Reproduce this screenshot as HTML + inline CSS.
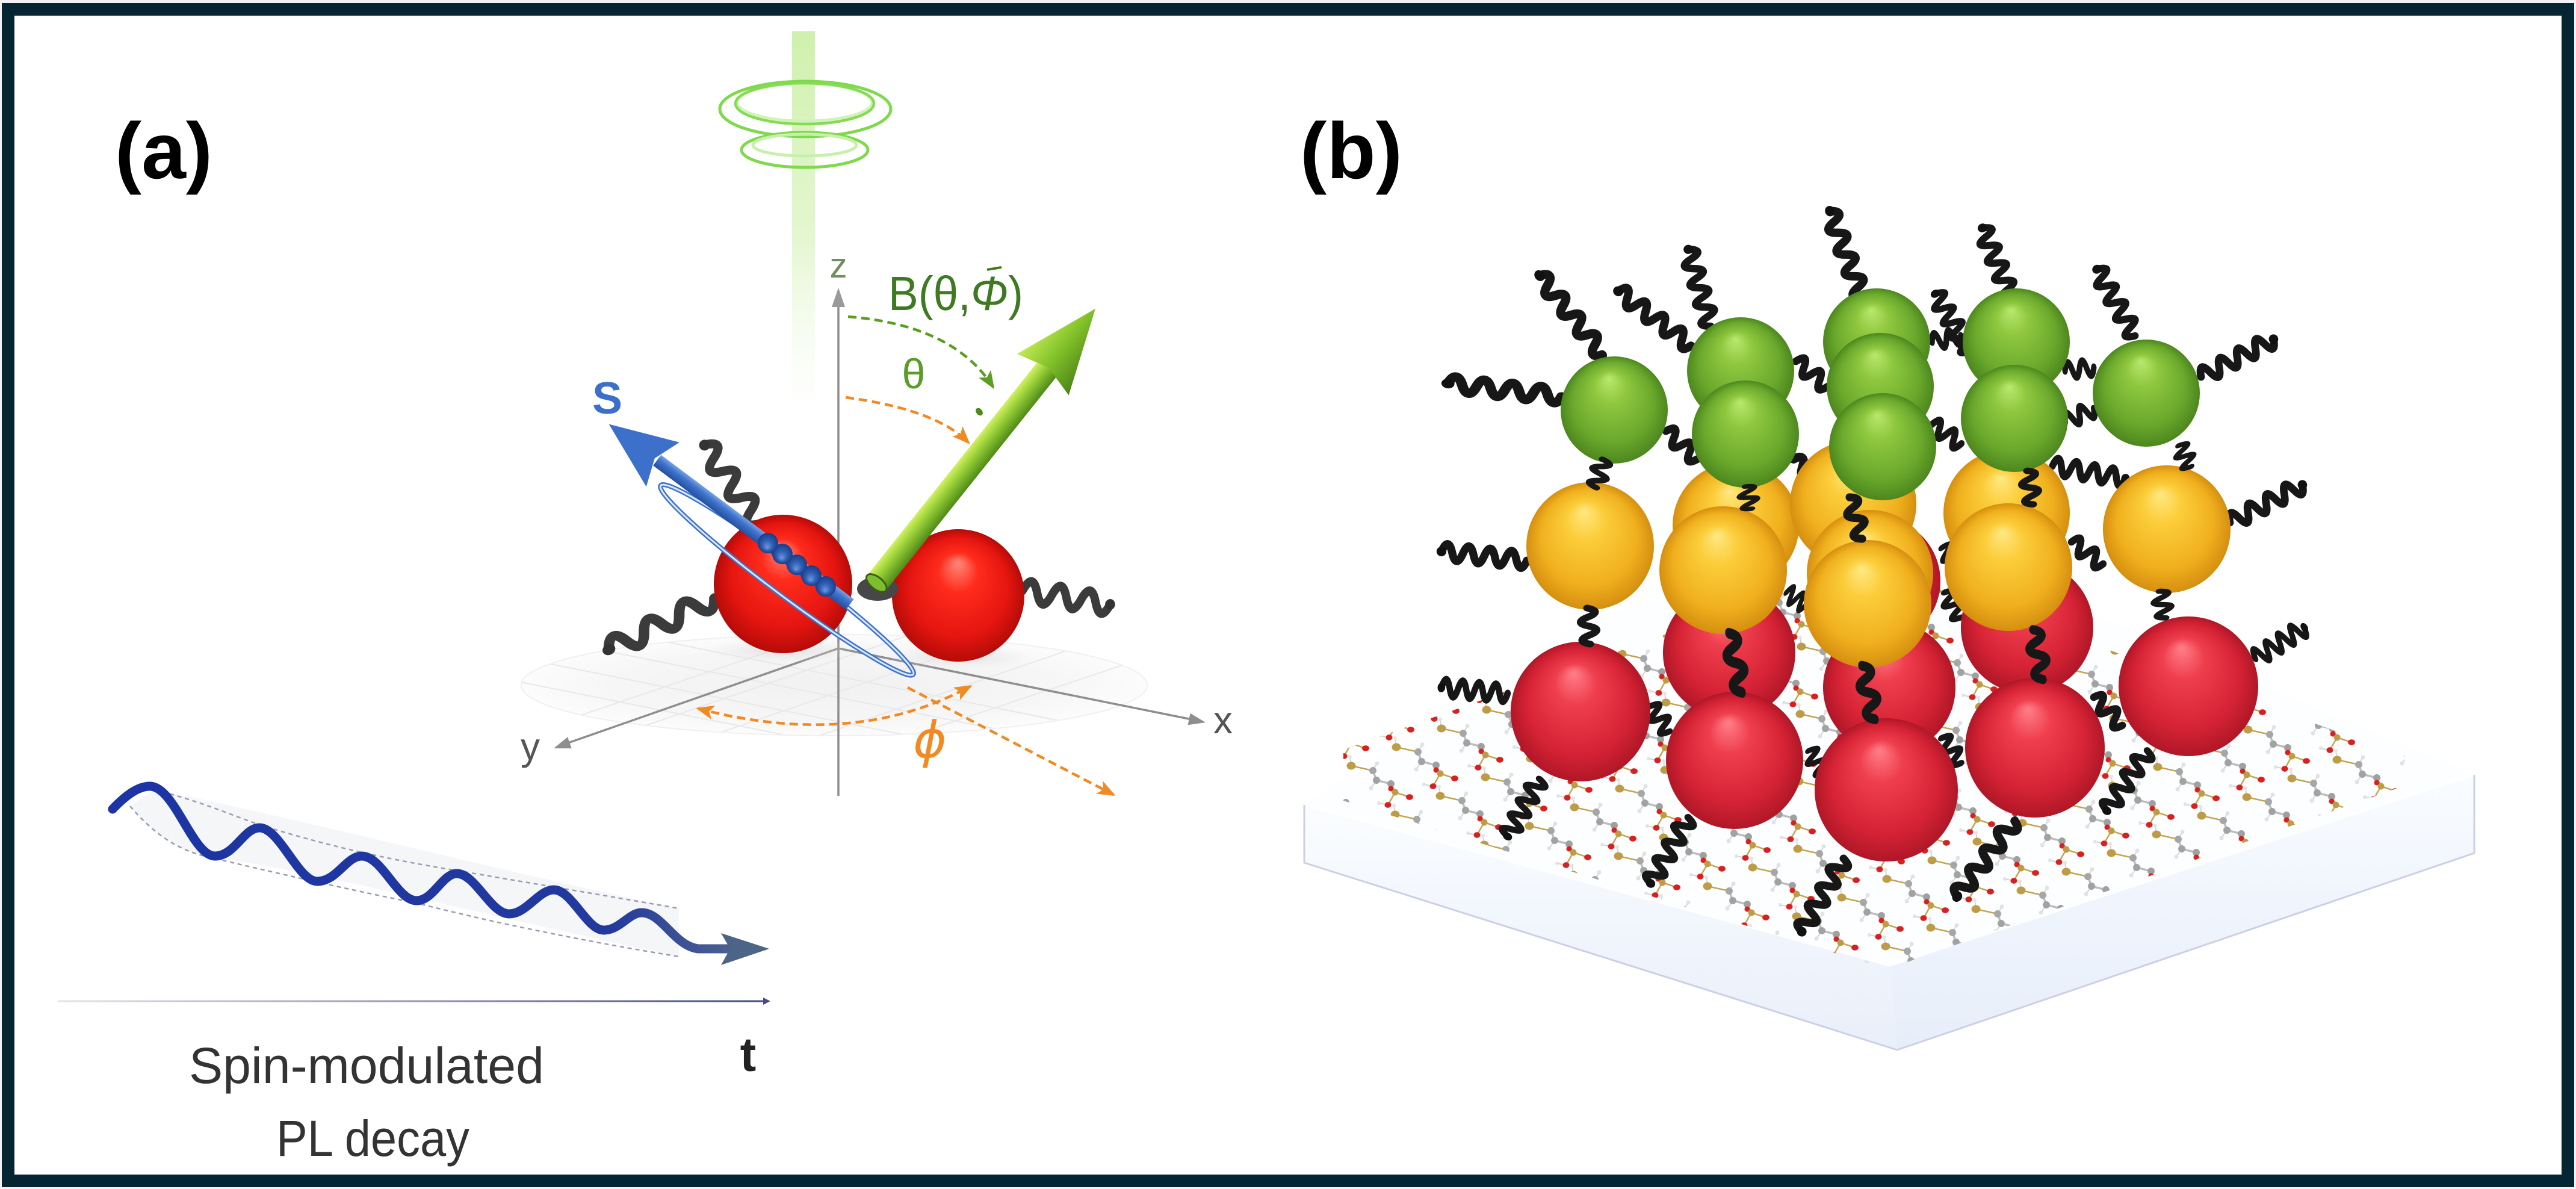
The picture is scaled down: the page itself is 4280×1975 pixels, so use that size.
<!DOCTYPE html>
<html>
<head>
<meta charset="utf-8">
<style>
  html,body{margin:0;padding:0;background:#ffffff;}
  body{width:4280px;height:1975px;overflow:hidden;}
  svg{display:block;}
</style>
</head>
<body>
<svg width="4280" height="1975" viewBox="0 0 4280 1975" xmlns="http://www.w3.org/2000/svg" xmlns:xlink="http://www.w3.org/1999/xlink">
<defs>
  <radialGradient id="gRed" cx="0.5" cy="0.5" r="0.5" fx="0.45" fy="0.22">
    <stop offset="0" stop-color="#ff808a"/>
    <stop offset="0.3" stop-color="#ef3e4d"/>
    <stop offset="0.75" stop-color="#d52335"/>
    <stop offset="1" stop-color="#b01727"/>
  </radialGradient>
  <radialGradient id="gRedA" cx="0.5" cy="0.5" r="0.5" fx="0.5" fy="0.25">
    <stop offset="0" stop-color="#ff8a7c"/>
    <stop offset="0.3" stop-color="#ff2c1c"/>
    <stop offset="0.75" stop-color="#e51510"/>
    <stop offset="1" stop-color="#b50c08"/>
  </radialGradient>
  <radialGradient id="gYel" cx="0.5" cy="0.5" r="0.5" fx="0.45" fy="0.22">
    <stop offset="0" stop-color="#ffe985"/>
    <stop offset="0.3" stop-color="#fccd3a"/>
    <stop offset="0.75" stop-color="#f0b01e"/>
    <stop offset="1" stop-color="#d58f10"/>
  </radialGradient>
  <radialGradient id="gGrn" cx="0.5" cy="0.5" r="0.5" fx="0.45" fy="0.2">
    <stop offset="0" stop-color="#b9e86e"/>
    <stop offset="0.3" stop-color="#8fc83f"/>
    <stop offset="0.75" stop-color="#6aa82c"/>
    <stop offset="1" stop-color="#4d871e"/>
  </radialGradient>
  <radialGradient id="gBead" cx="0.5" cy="0.5" r="0.5" fx="0.4" fy="0.3">
    <stop offset="0" stop-color="#6f98dd"/>
    <stop offset="0.5" stop-color="#2f5fb5"/>
    <stop offset="1" stop-color="#1a3c86"/>
  </radialGradient>
  <radialGradient id="gFloor" cx="0.5" cy="0.5" r="0.5">
    <stop offset="0" stop-color="#f1f1f1"/>
    <stop offset="0.7" stop-color="#f6f6f6"/>
    <stop offset="1" stop-color="#fcfcfc"/>
  </radialGradient>
  <radialGradient id="gShadow" cx="0.5" cy="0.5" r="0.5">
    <stop offset="0" stop-color="#cfcfcf" stop-opacity="0.6"/>
    <stop offset="1" stop-color="#e8e8e8" stop-opacity="0"/>
  </radialGradient>
  <linearGradient id="gShaftG" x1="0" y1="0" x2="0" y2="1">
    <stop offset="0" stop-color="#d2f065"/>
    <stop offset="0.35" stop-color="#9ed43a"/>
    <stop offset="1" stop-color="#4e8a17"/>
  </linearGradient>
  <linearGradient id="gHeadG" x1="0" y1="0" x2="0" y2="1">
    <stop offset="0" stop-color="#c4ea55"/>
    <stop offset="0.45" stop-color="#86c42c"/>
    <stop offset="1" stop-color="#4a8414"/>
  </linearGradient>
  <linearGradient id="gShaftB" x1="0" y1="0" x2="0" y2="1">
    <stop offset="0" stop-color="#24509f"/>
    <stop offset="0.6" stop-color="#3f73cc"/>
    <stop offset="1" stop-color="#76a3e6"/>
  </linearGradient>
  <linearGradient id="gBeam" x1="0" y1="0" x2="0" y2="1">
    <stop offset="0" stop-color="#cdf0a8" stop-opacity="0.95"/>
    <stop offset="0.55" stop-color="#def5c6" stop-opacity="0.8"/>
    <stop offset="1" stop-color="#f4fbee" stop-opacity="0"/>
  </linearGradient>
  <linearGradient id="gWave" gradientUnits="userSpaceOnUse" x1="187" y1="0" x2="1277" y2="0">
    <stop offset="0" stop-color="#1c34a4"/>
    <stop offset="0.75" stop-color="#22399e"/>
    <stop offset="1" stop-color="#596b8c"/>
  </linearGradient>
  <linearGradient id="gBase" gradientUnits="userSpaceOnUse" x1="96" y1="0" x2="1280" y2="0">
    <stop offset="0" stop-color="#e4e4ea"/>
    <stop offset="1" stop-color="#4a4a82"/>
  </linearGradient>
  <linearGradient id="gSideL" x1="0" y1="0" x2="0" y2="1">
    <stop offset="0" stop-color="#fbfdff"/>
    <stop offset="0.45" stop-color="#f2f6fd"/>
    <stop offset="1" stop-color="#e9eff9"/>
  </linearGradient>
  <linearGradient id="gSideR" x1="0" y1="0" x2="0" y2="1">
    <stop offset="0" stop-color="#fafcff"/>
    <stop offset="0.45" stop-color="#f0f5fd"/>
    <stop offset="1" stop-color="#e7eef9"/>
  </linearGradient>

  <marker id="mOr" viewBox="0 0 30 24" refX="26" refY="12" markerWidth="30" markerHeight="24" markerUnits="userSpaceOnUse" orient="auto-start-reverse">
    <path d="M0 0 L30 12 L0 24 L7 12 Z" fill="#f18a22"/>
  </marker>
  <marker id="mGr" viewBox="0 0 30 24" refX="26" refY="12" markerWidth="30" markerHeight="24" markerUnits="userSpaceOnUse" orient="auto-start-reverse">
    <path d="M0 0 L30 12 L0 24 L7 12 Z" fill="#5a9e24"/>
  </marker>

  <g id="hx">
    <path d="M0 0 q8.75 -27 17.5 0 t17.5 0 t17.5 0 t17.5 0 t17.5 0 t17.5 0 t17.5 0 t17.5 0" fill="none" stroke="#171717" stroke-width="13" stroke-linecap="round"/>
    <circle cx="140" cy="0" r="8" fill="#111"/>
  </g>
  <g id="hxs">
    <path d="M0 0 q8.75 -25 17.5 0 t17.5 0 t17.5 0 t17.5 0" fill="none" stroke="#171717" stroke-width="13" stroke-linecap="round"/>
  </g>
  <g id="hxa">
    <path d="M0 0 q13.3 -34 26.7 0 t26.7 0 t26.7 0 t26.7 0 t26.7 0 t26.7 0" fill="none" stroke="#3b3b3b" stroke-width="15" stroke-linecap="round"/>
    <circle cx="160" cy="0" r="9" fill="#333"/>
  </g>

  <g id="m1">
    <path d="M0 0 L36 8" stroke="#c2a450" stroke-width="2.5" fill="none"/>
    <path d="M36 8 L42 24 L66 30" stroke="#bdbdbd" stroke-width="3.5" fill="none"/>
    <path d="M66 30 L73 44 L97 52 M73 44 L61 65" stroke="#c2a450" stroke-width="2.5" fill="none"/>
    <path d="M61 65 L46 62 M36 8 L43 -4 M42 24 L33 37 M0 0 L-2 -15" stroke="#d0d0d0" stroke-width="1.8" fill="none"/>
    <circle cx="-2" cy="-15" r="3" fill="#e4e4e4"/>
    <ellipse cx="0" cy="0" rx="7.5" ry="6.5" fill="#bd9c45"/>
    <circle cx="36" cy="8" r="6" fill="#a6a6a6"/>
    <circle cx="43" cy="-4" r="3.5" fill="#e2e2e2"/>
    <circle cx="42" cy="24" r="6" fill="#a2a2a2"/>
    <circle cx="33" cy="37" r="3.5" fill="#e2e2e2"/>
    <circle cx="66" cy="30" r="6" fill="#a0a0a0"/>
    <circle cx="66" cy="38" r="4.5" fill="#d82020"/>
    <circle cx="73" cy="44" r="5.5" fill="#bd9c45"/>
    <ellipse cx="97" cy="52" rx="6" ry="4.8" fill="#d82020"/>
    <ellipse cx="61" cy="65" rx="5.5" ry="4.8" fill="#d82020"/>
    <circle cx="46" cy="62" r="3" fill="#e2e2e2"/>
  </g>
  <pattern id="molPat" patternUnits="userSpaceOnUse" x="0" y="0" width="1" height="1" patternTransform="translate(2245 1272) matrix(75 -31 148 50 0 0)">
    <use href="#m1" transform="translate(0 -1) matrix(0.0059966 0.0037179 -0.0177501 0.0089950 0 0)"/>
    <use href="#m1" transform="translate(1 -1) matrix(0.0059966 0.0037179 -0.0177501 0.0089950 0 0)"/>
    <use href="#m1" transform="translate(2 -1) matrix(0.0059966 0.0037179 -0.0177501 0.0089950 0 0)"/>
    <use href="#m1" transform="translate(0 0) matrix(0.0059966 0.0037179 -0.0177501 0.0089950 0 0)"/>
    <use href="#m1" transform="translate(1 0) matrix(0.0059966 0.0037179 -0.0177501 0.0089950 0 0)"/>
    <use href="#m1" transform="translate(2 0) matrix(0.0059966 0.0037179 -0.0177501 0.0089950 0 0)"/>
    <use href="#m1" transform="translate(0 1) matrix(0.0059966 0.0037179 -0.0177501 0.0089950 0 0)"/>
    <use href="#m1" transform="translate(1 1) matrix(0.0059966 0.0037179 -0.0177501 0.0089950 0 0)"/>
    <use href="#m1" transform="translate(2 1) matrix(0.0059966 0.0037179 -0.0177501 0.0089950 0 0)"/>
  </pattern>
  <clipPath id="floorClip">
    <ellipse cx="1386" cy="1138" rx="520" ry="84"/>
  </clipPath>
</defs>

<rect width="4280" height="1975" fill="#f2f2f2"/>
<rect x="3" y="5" width="4274" height="1967" fill="#ffffff"/>

<!-- ================= PANEL (a) ================= -->
<text x="191" y="296" font-family="'Liberation Sans', Arial, sans-serif" font-weight="bold" font-size="132" fill="#000" textLength="162" lengthAdjust="spacingAndGlyphs">(a)</text>

<rect x="1316" y="52" width="38" height="640" fill="url(#gBeam)"/>
<ellipse cx="1338" cy="181" rx="142" ry="46" fill="none" stroke="#7fd94c" stroke-width="5"/>
<ellipse cx="1337" cy="170" rx="112" ry="31" fill="none" stroke="#d2f3b8" stroke-width="5"/>
<ellipse cx="1337" cy="172" rx="115" ry="34" fill="none" stroke="#85db55" stroke-width="4.5"/>
<ellipse cx="1337" cy="249" rx="105" ry="29" fill="none" stroke="#7fd94c" stroke-width="5"/>
<ellipse cx="1337" cy="241" rx="86" ry="18" fill="none" stroke="#c9efac" stroke-width="5"/>

<ellipse cx="1386" cy="1138" rx="520" ry="84" fill="url(#gFloor)"/>
<g clip-path="url(#floorClip)" stroke="#e8e8e8" stroke-width="2" fill="none">
  <path d="M900 1100 L1900 1300 M950 1070 L1950 1270 M1000 1045 L2000 1245 M850 1130 L1850 1330"/>
  <path d="M1100 1250 L1800 1010 M1000 1230 L1700 990 M1250 1260 L1950 1020 M1400 1260 L2000 1060 M900 1210 L1550 990"/>
</g>
<ellipse cx="1386" cy="1138" rx="520" ry="84" fill="none" stroke="#f0f0f0" stroke-width="2"/>

<g stroke="#8e8e8e" stroke-width="3.5" fill="none">
  <line x1="1393" y1="1077" x2="1980" y2="1195"/>
  <line x1="1393" y1="1077" x2="944" y2="1234"/>
  <line x1="1393" y1="1322" x2="1393" y2="500"/>
</g>
<polygon points="1393,478 1382,510 1404,510" fill="#9a9a9a"/>
<polygon points="2003,1200 1977.6,1184.7 1973.6,1204.3" fill="#8e8e8e"/>
<polygon points="920,1243 949.7,1243.1 943.1,1224.3" fill="#8e8e8e"/>

<ellipse cx="1300" cy="1080" rx="130" ry="22" fill="url(#gShadow)"/>
<ellipse cx="1595" cy="1092" rx="125" ry="20" fill="url(#gShadow)"/>

<use href="#hxa" transform="translate(1263 870) rotate(-125.3) scale(1 1)"/>
<use href="#hxa" transform="translate(1187 993) rotate(153.9) scale(1.22 1)"/>
<use href="#hxa" transform="translate(1699 981) rotate(9) scale(0.92 1)"/>

<circle cx="1301" cy="970" r="115" fill="url(#gRedA)"/>
<circle cx="1592" cy="989" r="110" fill="url(#gRedA)"/>

<ellipse cx="1458" cy="978" rx="34" ry="20" fill="#474747"/>

<g transform="translate(1455 970) rotate(-51.4)">
  <rect x="0" y="-20" width="462" height="40" fill="url(#gShaftG)"/>
  <ellipse cx="2" cy="0" rx="10" ry="20" fill="#7cbf2e" stroke="#3c5c14" stroke-width="3"/>
  <polygon points="445,-55 585,0 445,55 460,0" fill="url(#gHeadG)"/>
</g>

<g transform="translate(1412 1004) rotate(-143.2)">
  <ellipse cx="108" cy="-30" rx="262" ry="26" fill="none" stroke="#3f72cc" stroke-width="8"/>
  <ellipse cx="108" cy="-30" rx="262" ry="26" fill="none" stroke="#d8e9fc" stroke-width="3"/>
  <rect x="0" y="-11" width="400" height="22" fill="url(#gShaftB)"/>
  <polygon points="388,-46 500,0 388,46 405,0" fill="#3d70cb"/>
  <ellipse cx="50" cy="0" rx="17" ry="17" fill="url(#gBead)"/>
  <ellipse cx="80" cy="0" rx="17" ry="17" fill="url(#gBead)"/>
  <ellipse cx="110" cy="0" rx="17" ry="17" fill="url(#gBead)"/>
  <ellipse cx="140" cy="0" rx="17" ry="17" fill="url(#gBead)"/>
  <ellipse cx="170" cy="0" rx="17" ry="17" fill="url(#gBead)"/>
</g>

<path d="M1409 526 Q1585 540 1650 643" fill="none" stroke="#5a9e24" stroke-width="4.5" stroke-dasharray="14 8" marker-end="url(#mGr)"/>
<ellipse cx="1627" cy="684" rx="5" ry="7" fill="#4e8a1e" transform="rotate(-40 1627 684)"/>
<path d="M1405 660 Q1555 680 1609 735" fill="none" stroke="#f18a22" stroke-width="4.5" stroke-dasharray="14 8" marker-end="url(#mOr)"/>
<path d="M1160 1177 Q1420 1245 1612 1140" fill="none" stroke="#f18a22" stroke-width="4.5" stroke-dasharray="14 8" marker-start="url(#mOr)" marker-end="url(#mOr)"/>
<path d="M1508 1142 L1850 1320" fill="none" stroke="#f18a22" stroke-width="4.5" stroke-dasharray="14 8" marker-end="url(#mOr)"/>

<text x="1393" y="461" text-anchor="middle" font-family="'Liberation Sans', 'DejaVu Sans', sans-serif" font-size="58" fill="#6f8f5f">z</text>
<text x="1476" y="515" font-family="'Liberation Sans', 'DejaVu Sans', sans-serif" font-size="80" fill="#3d7a22" textLength="224" lengthAdjust="spacingAndGlyphs">B(θ,<tspan font-style="italic">Φ</tspan>)</text>
<path d="M1640 448 L1664 444" stroke="#3d7a22" stroke-width="4" fill="none"/>
<text x="1518" y="645" text-anchor="middle" font-family="'Liberation Sans', 'DejaVu Sans', sans-serif" font-size="70" fill="#5b9c2a">θ</text>
<text x="1009" y="687" text-anchor="middle" font-family="'Liberation Sans', sans-serif" font-weight="bold" font-size="75" fill="#3b6fc9">S</text>
<text x="2032" y="1218" text-anchor="middle" font-family="'Liberation Sans', sans-serif" font-size="64" fill="#555">x</text>
<text x="881" y="1262" text-anchor="middle" font-family="'Liberation Sans', sans-serif" font-size="64" fill="#555">y</text>
<text x="1545" y="1258" text-anchor="middle" font-family="'DejaVu Sans', 'Liberation Sans', sans-serif" font-style="italic" font-size="84" fill="#f18a22">ϕ</text>

<path d="M257 1312 C500 1360 800 1440 1128 1509 L1128 1589 C800 1520 500 1440 357 1426 C290 1415 240 1370 216 1339 Z" fill="#f1f2f5" opacity="0.7"/>
<path d="M257 1312 C330 1330 380 1352 431 1370 C560 1410 660 1430 759 1446 C900 1470 1020 1490 1128 1509" fill="none" stroke="#9b9bb2" stroke-width="2.5" stroke-dasharray="7 6"/>
<path d="M216 1339 C260 1390 300 1415 357 1426 C480 1455 590 1480 692 1500 C850 1540 1000 1568 1128 1589" fill="none" stroke="#9b9bb2" stroke-width="2.5" stroke-dasharray="7 6"/>
<path d="M187 1344 C210 1320 230 1306 249 1306 C290 1306 320 1422 357 1422 C390 1422 405 1375 431 1375 C465 1375 495 1464 527 1464 C560 1464 575 1422 601 1422 C635 1422 660 1496 692 1496 C720 1496 735 1451 759 1451 C790 1451 815 1518 846 1518 C875 1518 895 1478 920 1478 C950 1478 975 1545 1003 1545 C1030 1545 1045 1516 1066 1516 C1100 1516 1120 1571 1160 1576 L1215 1576" fill="none" stroke="url(#gWave)" stroke-width="15" stroke-linecap="round" stroke-linejoin="round"/>
<polygon points="1198,1550 1278,1576 1198,1603 1213,1576" fill="#4c6486"/>

<line x1="96" y1="1663" x2="1272" y2="1663" stroke="url(#gBase)" stroke-width="3"/>
<polygon points="1280,1663 1268,1657 1268,1669" fill="#4a4a82"/>
<text x="1243" y="1779" text-anchor="middle" font-family="'Liberation Sans', sans-serif" font-weight="bold" font-size="80" fill="#222">t</text>
<text x="314" y="1799" font-family="'Liberation Sans', sans-serif" font-size="84" fill="#333" textLength="590" lengthAdjust="spacingAndGlyphs">Spin-modulated</text>
<text x="459" y="1920" font-family="'Liberation Sans', sans-serif" font-size="84" fill="#333" textLength="321" lengthAdjust="spacingAndGlyphs">PL decay</text>

<!-- ================= PANEL (b) ================= -->
<text x="2160" y="296" font-family="'Liberation Sans', Arial, sans-serif" font-weight="bold" font-size="132" fill="#000" textLength="170" lengthAdjust="spacingAndGlyphs">(b)</text>

<polygon points="2167,1337 2600,1050 3100,860 4111,1287 3140,1604" fill="#fdfeff"/>
<path d="M2167,1337 L3140,1604 L3152,1744 L2167,1433 Z" fill="url(#gSideL)"/>
<path d="M3140,1604 L4111,1287 L4111,1417 L3152,1744 Z" fill="url(#gSideR)"/>
<path d="M2167,1337 L3140,1604 L4111,1287" fill="none" stroke="#ffffff" stroke-width="3"/>
<path d="M2167,1337 L2167,1433 L3152,1744 L4111,1417 L4111,1287" fill="none" stroke="#ccd0e6" stroke-width="3" stroke-linejoin="round"/>

<polygon points="2232,1245 2232,1330 3135,1610 3995,1305 3995,1255 3100,935" fill="url(#molPat)"/>

<use href="#hx" transform="translate(2663 589) rotate(-128.7) scale(1.2 1)"/>
<use href="#hx" transform="translate(2842 542) rotate(-106.1) scale(0.95 1)"/>
<use href="#hx" transform="translate(2810 574) rotate(-143.4) scale(1.08 1)"/>
<use href="#hx" transform="translate(3094 495) rotate(-110.4) scale(1.1 1)"/>
<use href="#hx" transform="translate(3342 495) rotate(-112.5) scale(0.9 1)"/>
<use href="#hx" transform="translate(3273 584) rotate(-120.9) scale(0.8 1)"/>
<use href="#hx" transform="translate(3547 558) rotate(-119.6) scale(0.91 1)"/>
<use href="#hx" transform="translate(3657 626) rotate(-27.5) scale(0.97 1)"/>
<use href="#hx" transform="translate(2595 658) rotate(-173.7) scale(1.36 1)"/>
<use href="#hx" transform="translate(3705 868) rotate(-27.5) scale(0.97 1)"/>
<use href="#hx" transform="translate(2537 931) rotate(-174) scale(1.02 1)"/>
<use href="#hx" transform="translate(3747 1094) rotate(-32.4) scale(0.69 1)"/>
<use href="#hx" transform="translate(2505 1152) rotate(-174.8) scale(0.79 1)"/>
<use href="#hx" transform="translate(2558 1294) rotate(119.2) scale(0.78 1)"/>
<use href="#hx" transform="translate(2805 1358) rotate(119.8) scale(0.9 1)"/>
<use href="#hx" transform="translate(3063 1426) rotate(119.7) scale(1.0 1)"/>
<use href="#hx" transform="translate(3347 1363) rotate(127) scale(1.13 1)"/>
<use href="#hx" transform="translate(3568 1247) rotate(124.2) scale(0.86 1)"/>
<use href="#hx" transform="translate(3410 774) rotate(9.8) scale(0.88 1)"/>
<use href="#hxs" transform="translate(2768 716) rotate(41.6) scale(1.0 1)"/>
<use href="#hxs" transform="translate(2984 600) rotate(38.9) scale(0.96 1)"/>
<use href="#hxs" transform="translate(3210 568) rotate(-11.8) scale(0.7 1)"/>
<use href="#hxs" transform="translate(3431 616) rotate(-7) scale(0.69 1)"/>
<use href="#hxs" transform="translate(3431 700) rotate(-23.6) scale(0.75 1)"/>
<use href="#hxs" transform="translate(3210 705) rotate(33.7) scale(0.83 1)"/>
<use href="#hxs" transform="translate(2979 763) rotate(40) scale(1.17 1)"/>
<use href="#hxs" transform="translate(3226 910) rotate(45) scale(0.65 1)"/>
<use href="#hxs" transform="translate(3442 900) rotate(35.4) scale(0.91 1)"/>
<use href="#hxs" transform="translate(2968 984) rotate(33) scale(0.55 1)"/>
<use href="#hxs" transform="translate(3231 984) rotate(57) scale(0.71 1)"/>
<use href="#hxs" transform="translate(3479 1158) rotate(45) scale(0.95 1)"/>
<use href="#hxs" transform="translate(2742 1173) rotate(53.6) scale(0.75 1)"/>
<use href="#hxs" transform="translate(3005 1247) rotate(55) scale(0.65 1)"/>
<use href="#hxs" transform="translate(3226 1226) rotate(52.7) scale(0.75 1)"/>

<circle cx="2873" cy="1084" r="110" fill="url(#gRed)"/>
<circle cx="3139" cy="1142" r="110" fill="url(#gRed)"/>
<circle cx="3368" cy="1042" r="110" fill="url(#gRed)"/>
<circle cx="3118" cy="965" r="106" fill="url(#gRed)"/>
<circle cx="2884" cy="873" r="105" fill="url(#gYel)"/>
<circle cx="3079" cy="837" r="105" fill="url(#gYel)"/>
<circle cx="3334" cy="852" r="105" fill="url(#gYel)"/>
<circle cx="2892" cy="616" r="89" fill="url(#gGrn)"/>
<circle cx="3118" cy="568" r="89" fill="url(#gGrn)"/>
<circle cx="3350" cy="568" r="89" fill="url(#gGrn)"/>
<circle cx="3107" cy="952" r="105" fill="url(#gYel)"/>
<circle cx="3124" cy="642" r="89" fill="url(#gGrn)"/>

<circle cx="2626" cy="1182" r="116" fill="url(#gRed)"/>
<circle cx="2882" cy="1263" r="114" fill="url(#gRed)"/>
<circle cx="3134" cy="1312" r="119" fill="url(#gRed)"/>
<circle cx="3381" cy="1242" r="116" fill="url(#gRed)"/>
<circle cx="3636" cy="1140" r="116" fill="url(#gRed)"/>
<circle cx="2642" cy="907" r="106" fill="url(#gYel)"/>
<circle cx="2863" cy="947" r="106" fill="url(#gYel)"/>
<circle cx="3103" cy="1003" r="106" fill="url(#gYel)"/>
<circle cx="3337" cy="942" r="106" fill="url(#gYel)"/>
<circle cx="3600" cy="879" r="106" fill="url(#gYel)"/>
<circle cx="2682" cy="681" r="89" fill="url(#gGrn)"/>
<circle cx="2900" cy="721" r="89" fill="url(#gGrn)"/>
<circle cx="3128" cy="742" r="89" fill="url(#gGrn)"/>
<circle cx="3347" cy="695" r="89" fill="url(#gGrn)"/>
<circle cx="3566" cy="653" r="89" fill="url(#gGrn)"/>

<use href="#hxs" transform="translate(2663 763) rotate(103.2) scale(0.69 1)"/>
<use href="#hxs" transform="translate(2637 1010) rotate(85.2) scale(0.86 1)"/>
<use href="#hxs" transform="translate(2900 808) rotate(74.9) scale(0.55 1)"/>
<use href="#hxs" transform="translate(2873 1052) rotate(77.9) scale(1.43 1)"/>
<use href="#hxs" transform="translate(3073 826) rotate(73) scale(1.03 1)"/>
<use href="#hxs" transform="translate(3094 1106) rotate(76.7) scale(1.3 1)"/>
<use href="#hxs" transform="translate(3368 782) rotate(79.9) scale(0.81 1)"/>
<use href="#hxs" transform="translate(3378 1046) rotate(79) scale(1.2 1)"/>
<use href="#hxs" transform="translate(3620 740) rotate(60.3) scale(0.58 1)"/>
<use href="#hxs" transform="translate(3588 982) rotate(77.2) scale(0.65 1)"/>

<rect x="13.5" y="15.5" width="4253" height="1946" fill="none" stroke="#062532" stroke-width="21"/>
</svg>
</body>
</html>
